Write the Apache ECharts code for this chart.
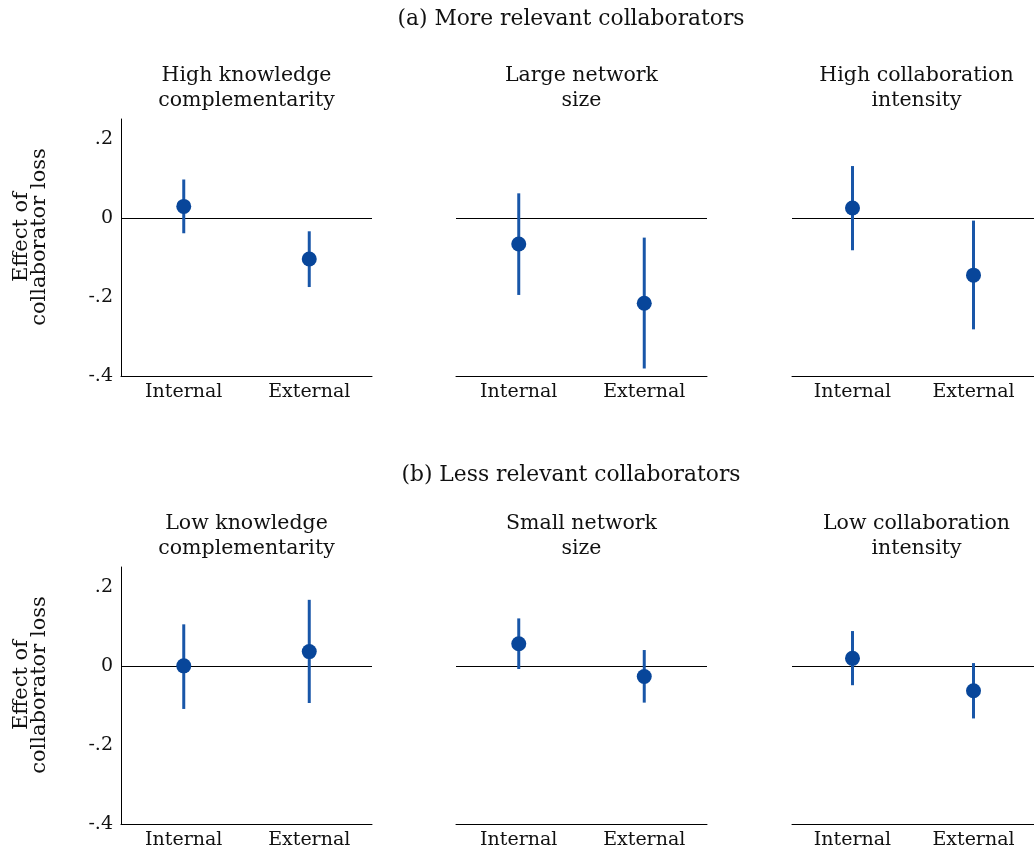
<!DOCTYPE html>
<html>
<head>
<meta charset="utf-8">
<script src="https://cdn.jsdelivr.net/npm/echarts@6/dist/echarts.min.js"></script>
<style>html,body{margin:0;padding:0;background:#fff}#c{width:1034px;height:855px}</style>
</head>
<body>
<div id="c"></div>
<script>
const categories = ['Internal', 'External'];
const panelTitles = [
  'High knowledge\ncomplementarity', 'Large network\nsize', 'High collaboration\nintensity',
  'Low knowledge\ncomplementarity', 'Small network\nsize', 'Low collaboration\nintensity'
];
const rowTitles = ['(a) More relevant collaborators', '(b) Less relevant collaborators'];
// point estimates [Internal, External]
const estimates = [
  [0.029, -0.104], [-0.066, -0.216], [0.025, -0.145],
  [0.000, 0.036], [0.056, -0.027], [0.019, -0.063]
];
const ciLow = [
  [-0.039, -0.175], [-0.195, -0.381], [-0.082, -0.282],
  [-0.109, -0.094], [-0.008, -0.093], [-0.049, -0.133]
];
const ciHigh = [
  [0.097, -0.034], [0.062, -0.050], [0.131, -0.007],
  [0.105, 0.167], [0.120, 0.040], [0.088, 0.007]
];
const yTickValues = [-0.4, -0.2, 0, 0.2];
const yTickLabels = ['-.4', '-.2', '0', '.2'];
const yAxisTitle = 'Effect of\ncollaborator loss';

const FONT = 'DejaVu Serif';
const colLefts = [121, 456, 792];
const rowTops = [119, 567];
const gw = 251, gh = 257;
const pointColor = '#08469a';
const lineColor = '#1856a8';

const grids = [], xAxes = [], yAxes = [], series = [], titles = [], graphics = [];
for (let p = 0; p < 6; p++) {
  const r = Math.floor(p / 3), c = p % 3;
  grids.push({ left: colLefts[c], top: rowTops[r], width: gw, height: gh });
  xAxes.push({
    type: 'category', gridIndex: p, data: categories, boundaryGap: true,
    axisLine: { show: true, onZero: false, lineStyle: { color: '#000', width: 1 } },
    axisTick: { show: false },
    axisLabel: { color: '#111', fontFamily: FONT, fontSize: 19, margin: 7 },
    splitLine: { show: false }
  });
  const showY = c === 0;
  yAxes.push({
    type: 'value', gridIndex: p, min: -0.4, max: 0.25, interval: 0.2,
    show: showY,
    axisLine: { show: true, onZero: false, lineStyle: { color: '#000', width: 1 } },
    axisTick: { show: false },
    splitLine: { show: false },
    axisLabel: {
      customValues: yTickValues,
      color: '#111', fontFamily: FONT, fontSize: 19, margin: 8,
      formatter: v => {
        const i = yTickValues.findIndex(t => Math.abs(t - v) < 1e-9);
        return i >= 0 ? yTickLabels[i] : '';
      }
    }
  });
  const ci = categories.map((cat, i) => [i, ciLow[p][i], ciHigh[p][i]]);
  series.push({
    type: 'custom', xAxisIndex: p, yAxisIndex: p, data: ci, z: 3, silent: true,
    renderItem: (params, api) => {
      const a = api.coord([api.value(0), api.value(1)]);
      const b = api.coord([api.value(0), api.value(2)]);
      return { type: 'line', shape: { x1: a[0], y1: a[1], x2: b[0], y2: b[1] },
               style: { stroke: lineColor, lineWidth: 3 } };
    }
  });
  series.push({
    type: 'scatter', xAxisIndex: p, yAxisIndex: p, z: 4, silent: true,
    data: categories.map((cat, i) => [i, estimates[p][i]]),
    symbol: 'circle', symbolSize: 15,
    itemStyle: { color: pointColor, opacity: 1 },
    markLine: {
      silent: true, symbol: 'none', label: { show: false }, z: 2,
      lineStyle: { color: '#000', width: 1, type: 'solid' },
      data: [{ yAxis: 0 }]
    }
  });
  titles.push({
    text: panelTitles[p], left: colLefts[c] + gw / 2 - (c === 2 ? 1 : 0), top: rowTops[r] - 56,
    textAlign: 'center', padding: 0,
    textStyle: { fontFamily: FONT, fontSize: 20.5, fontWeight: 'normal', color: '#111', lineHeight: 25 }
  });
}
rowTitles.forEach((t, r) => {
  titles.push({
    text: t, left: 571, top: r === 0 ? 8 : 464, textAlign: 'center', padding: 0,
    textStyle: { fontFamily: FONT, fontSize: 21.8, fontWeight: 'normal', color: '#111' }
  });
});
[0, 1].forEach(r => {
  graphics.push({
    type: 'text', x: 31, y: r === 0 ? 237 : 685, rotation: Math.PI / 2,
    style: { text: yAxisTitle, fontFamily: FONT, fontSize: 21, fill: '#111',
             align: 'center', verticalAlign: 'middle', lineHeight: 18 }
  });
});

const chart = echarts.init(document.getElementById('c'), null, { renderer: 'canvas' });
chart.setOption({
  animation: false,
  backgroundColor: '#fff',
  title: titles,
  grid: grids, xAxis: xAxes, yAxis: yAxes, series: series,
  graphic: graphics
});
</script>
</body>
</html>
